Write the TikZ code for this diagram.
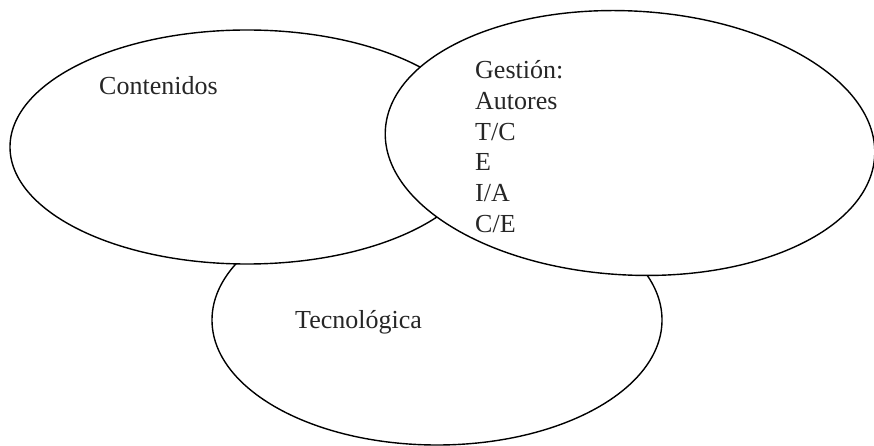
\documentclass[tikz,border=0pt]{standalone}
\usepackage{fontspec}
\setmainfont{Liberation Serif}
\usetikzlibrary{shapes.geometric}

\tikzset{
  area/.style={ellipse,draw,fill=white,line width=1.4pt,inner sep=0pt},
  lbl/.style={anchor=base west,inner sep=0pt,text=black!85,font=\fontsize{26}{30.6}\selectfont}
}

\begin{document}
\begin{tikzpicture}[x=1pt,y=-1pt]
\useasboundingbox[fill=white] (0,0) rectangle (874,446);
% three overlapping areas
\node[area,minimum width=450pt,minimum height=250pt] (tec) at (437,320) {};
\node[area,minimum width=474pt,minimum height=234pt] (cont) at (247,147) {};
\node[area,minimum width=490pt,minimum height=264pt,rotate=-3] (gest) at (630,143) {};
% labels
\node[lbl] (tcont) at (99,95) {Contenidos};
\node[lbl] (ttec) at (295,328) {Tecnológica};
\node[lbl,align=left] (tgest) at (475,232) {Gestión:\\Autores\\T/C\\E\\I/A\\C/E};
\end{tikzpicture}
\end{document}
